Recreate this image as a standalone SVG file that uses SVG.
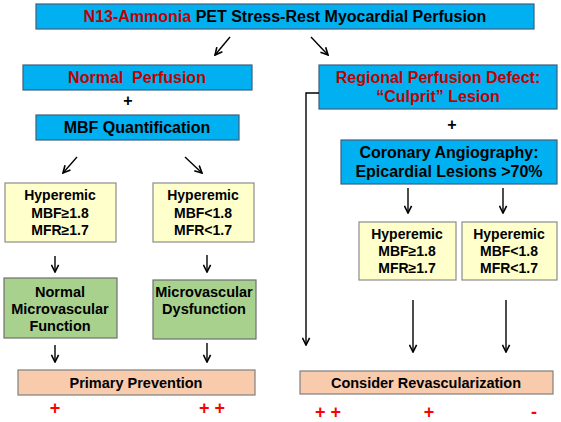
<svg xmlns="http://www.w3.org/2000/svg" width="561" height="422" viewBox="0 0 561 422">
<style>
text{font-family:"Liberation Sans",Arial,sans-serif;font-weight:bold;text-anchor:middle;fill:#000}
.blue{fill:#00B0F0;stroke:#3F5F7F;stroke-width:1.2}
.yel{fill:#FFFFCC;stroke:#8C8C8C;stroke-width:1.2}
.grn{fill:#A9D18E;stroke:#6F6F6F;stroke-width:1.2}
.org{fill:#F8CBAD;stroke:#7F7F7F;stroke-width:1.2}
.red{fill:#C00000}
.t16{font-size:16px}
.t14{font-size:14px}
.t145{font-size:14.5px}
.sym{fill:#FF0000;font-size:18px}
.c{stroke:#000;stroke-width:1.4;fill:none;marker-end:url(#ah)}
</style>
<defs>
<marker id="ah" viewBox="0 0 10 10" refX="9" refY="5" markerWidth="9" markerHeight="9" orient="auto" markerUnits="userSpaceOnUse">
<path d="M1,1 L9,5 L1,9" fill="none" stroke="#000" stroke-width="1.8"/>
</marker>
</defs>
<rect width="561" height="422" fill="#fff"/>
<g id="title">
<rect class="blue" x="36" y="4" width="498" height="25"/>
<text class="t16" x="285" y="22"><tspan class="red">N13-Ammonia</tspan> PET Stress-Rest Myocardial Perfusion</text>
</g>
<g id="normal-perfusion">
<rect class="blue" x="23" y="65" width="229" height="25"/>
<text class="t16 red" x="137" y="83" xml:space="preserve" style="white-space:pre">Normal  Perfusion</text>
</g>
<g id="plus-left"><text class="t16" x="128" y="106">+</text></g>
<g id="mbf-quant">
<rect class="blue" x="36" y="115" width="203" height="25"/>
<text class="t16" x="137" y="133">MBF Quantification</text>
</g>
<g id="regional">
<rect class="blue" x="319" y="65" width="238" height="44"/>
<text class="t16 red" x="438" y="83">Regional Perfusion Defect:</text>
<text class="t16 red" x="438" y="102">“Culprit” Lesion</text>
</g>
<g id="plus-right"><text class="t16" x="452" y="130">+</text></g>
<g id="coronary">
<rect class="blue" x="341" y="140" width="216" height="44"/>
<text class="t16" x="449" y="158">Coronary Angiography:</text>
<text class="t16" x="449" y="177">Epicardial Lesions &gt;70%</text>
</g>
<g id="yl1">
<rect class="yel" x="5" y="183" width="111" height="59"/>
<text class="t14" x="60" y="200">Hyperemic</text>
<text class="t14" x="60" y="218">MBF≥1.8</text>
<text class="t14" x="60" y="235">MFR≥1.7</text>
</g>
<g id="yl2">
<rect class="yel" x="153" y="183" width="101" height="59"/>
<text class="t14" x="203" y="200">Hyperemic</text>
<text class="t14" x="203" y="218">MBF&lt;1.8</text>
<text class="t14" x="203" y="235">MFR&lt;1.7</text>
</g>
<g id="yr1">
<rect class="yel" x="359" y="222" width="97" height="58"/>
<text class="t14" x="407" y="239">Hyperemic</text>
<text class="t14" x="407" y="256">MBF≥1.8</text>
<text class="t14" x="407" y="273">MFR≥1.7</text>
</g>
<g id="yr2">
<rect class="yel" x="462" y="222" width="95" height="58"/>
<text class="t14" x="509" y="239">Hyperemic</text>
<text class="t14" x="509" y="256">MBF&lt;1.8</text>
<text class="t14" x="509" y="273">MFR&lt;1.7</text>
</g>
<g id="g1">
<rect class="grn" x="4" y="278" width="113" height="60"/>
<text class="t145" x="60" y="297">Normal</text>
<text class="t145" x="60" y="314">Microvascular</text>
<text class="t145" x="60" y="331">Function</text>
</g>
<g id="g2">
<rect class="grn" x="153" y="280" width="103" height="59"/>
<text class="t145" x="204" y="297">Microvascular</text>
<text class="t145" x="204" y="314">Dysfunction</text>
</g>
<g id="primary">
<rect class="org" x="18" y="370" width="237" height="25"/>
<text class="t145" x="136" y="388">Primary Prevention</text>
</g>
<g id="revasc">
<rect class="org" x="300" y="371" width="253" height="23"/>
<text class="t145" x="426" y="388">Consider Revascularization</text>
</g>
<g id="signs">
<text class="sym" x="55" y="414">+</text>
<text class="sym" x="212" y="414">+ +</text>
<text class="sym" x="328" y="418">+ +</text>
<text class="sym" x="429" y="418">+</text>
<text class="sym" x="534" y="418">-</text>
</g>
<g id="connectors">
<path class="c" d="M230,37 L215,55"/>
<path class="c" d="M311,37 L328,55"/>
<path class="c" d="M77,157 L63,173"/>
<path class="c" d="M185,157 L202,173"/>
<path class="c" d="M55,256 L55,272"/>
<path class="c" d="M207,255 L207,272"/>
<path class="c" d="M55,345 L55,362"/>
<path class="c" d="M207,343 L207,362"/>
<path class="c" d="M319,93 L306,93 L306,345"/>
<path class="c" d="M408,188 L408,213"/>
<path class="c" d="M503,188 L503,213"/>
<path class="c" d="M413,300 L413,352"/>
<path class="c" d="M506,300 L506,352"/>
</g>
</svg>
